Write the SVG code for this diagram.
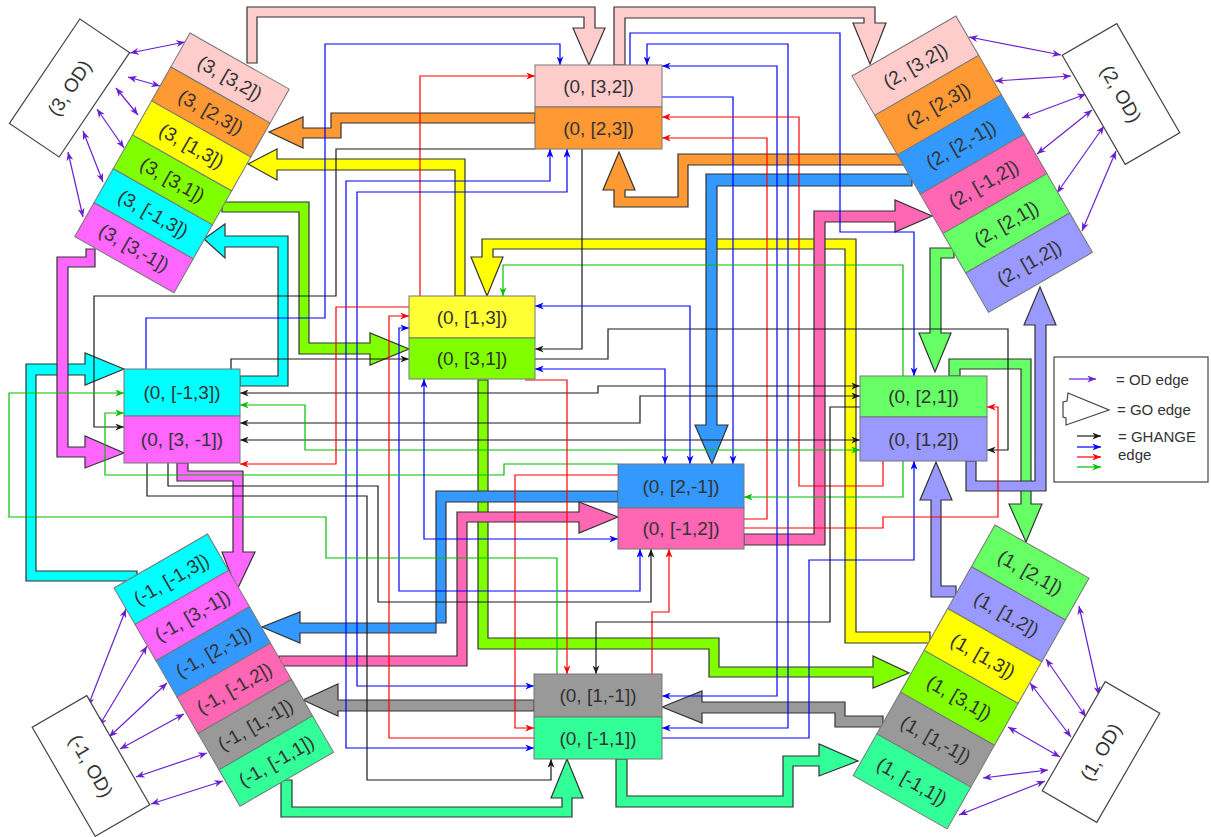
<svg xmlns="http://www.w3.org/2000/svg" width="1211" height="837" viewBox="0 0 1211 837">
<defs>
<style>
.nd rect{stroke:#777;stroke-width:1}
.nd text,.lt{font-family:"Liberation Sans",Arial,sans-serif;font-size:19px;fill:#333;text-anchor:middle;dominant-baseline:central}
.lt{font-size:15px;text-anchor:start}
.od rect{fill:#fff;stroke:#444;stroke-width:1.2}
.go{stroke:#333;stroke-width:1.2;stroke-linejoin:miter}
.t{fill:none;stroke-width:1.2}
.k{stroke:#1a1a1a}.b{stroke:#0000ff}.r{stroke:#ff0000}.g{stroke:#00c000}
.p{fill:none;stroke:#6a1fd1;stroke-width:1.2;marker-start:url(#mp);marker-end:url(#mp)}
.pk{fill:#ffcccc}.or{fill:#ff9933}.ye{fill:#ffff00}.y2{fill:#ffff33}.li{fill:#80ff00}.cy{fill:#00ffff}.mg{fill:#ff66ff}.bl{fill:#3399ff}.hp{fill:#ff66b3}.lg{fill:#66ff66}.lv{fill:#9999ff}.gy{fill:#999999}.sg{fill:#33ff99}
</style>
<marker id="mk" viewBox="0 0 10 8" refX="10" refY="4" markerWidth="9" markerHeight="7" orient="auto-start-reverse" markerUnits="userSpaceOnUse"><path d="M0,0 L10,4 L0,8 L3,4 Z" fill="#1a1a1a"/></marker>
<marker id="mb" viewBox="0 0 10 8" refX="10" refY="4" markerWidth="9" markerHeight="7" orient="auto-start-reverse" markerUnits="userSpaceOnUse"><path d="M0,0 L10,4 L0,8 L3,4 Z" fill="#0000ff"/></marker>
<marker id="mr" viewBox="0 0 10 8" refX="10" refY="4" markerWidth="9" markerHeight="7" orient="auto-start-reverse" markerUnits="userSpaceOnUse"><path d="M0,0 L10,4 L0,8 L3,4 Z" fill="#ff0000"/></marker>
<marker id="mg" viewBox="0 0 10 8" refX="10" refY="4" markerWidth="9" markerHeight="7" orient="auto-start-reverse" markerUnits="userSpaceOnUse"><path d="M0,0 L10,4 L0,8 L3,4 Z" fill="#00c000"/></marker>
<marker id="mp" viewBox="0 0 10 8" refX="10" refY="4" markerWidth="9" markerHeight="7" orient="auto-start-reverse" markerUnits="userSpaceOnUse"><path d="M0,0 L10,4 L0,8 L3,4 Z" fill="#6a1fd1"/></marker>
</defs>
<rect width="1211" height="837" fill="#fff"/>

<g id="connectors">
 <g id="go-edges" class="go">
  <polygon class="pk" points="247,63 247,7 595,7 595,28 605,28 589,65 573,28 584,28 584,17 257,17 257,63"/>
  <polygon class="pk" points="614,65 614,7 875,7 875,23 886,23 870,64 853,23 864,23 864,18 625,18 625,65"/>
  <polygon class="or" points="535,113 331,113 331,128 303,128 303,117 269,132 303,148 303,138 341,138 341,123 535,123"/>
  <polygon class="or" points="619,152 635,190 625,190 625,197 678,197 678,154 904,154 904,165 688,165 688,207 614,207 614,190 603,190"/>
  <polygon class="ye" points="465,296 465,159 277,159 277,149 248,164 277,180 277,170 455,170 455,296"/>
  <polygon class="ye" points="487,296 503,257 493,257 493,249 845,249 845,643 930,643 930,632 856,632 856,239 482,239 482,257 471,257"/>
  <polygon class="li" points="222,202 309,202 309,343 370,343 370,333 409,349 370,365 370,354 299,354 299,212 222,212"/>
  <polygon class="li" points="478,380 488,380 488,638 719,638 719,667 873,667 873,656 909,673 873,688 873,677 709,677 709,649 478,649"/>
  <polygon class="cy" points="204,239 225,224 225,236 288,236 288,386 240,386 240,376 278,376 278,247 225,247 225,258"/>
  <polygon class="cy" points="124,369 85,353 85,364 26,364 26,581 137,581 137,571 36,571 36,375 85,375 85,385"/>
  <polygon class="mg" points="57,257 86,257 86,249 95,249 95,267 68,267 68,447 85,447 85,436 124,453 85,468 85,457 57,457"/>
  <polygon class="mg" points="177,463 188,463 188,471 243,471 243,552 255,552 237,590 222,552 233,552 233,481 177,481"/>
  <polygon class="bl" points="912,174 706,174 706,425 695,425 712,464 728,425 717,425 717,186 912,186"/>
  <polygon class="bl" points="618,491 436,491 436,633 300,633 300,643 262,627 300,612 300,623 446,623 446,502 618,502"/>
  <polygon class="hp" points="279,656 457,656 457,512 579,512 579,502 618,517 579,533 579,522 467,522 467,666 279,666"/>
  <polygon class="hp" points="744,534 814,534 814,211 895,211 895,200 932,216 895,232 895,222 825,222 825,545 744,545"/>
  <polygon class="gy" points="534,700 338,700 338,684 303,700 338,716 338,711 534,711"/>
  <polygon class="gy" points="662,707 702,691 702,702 845,702 845,716 883,716 883,727 835,727 835,713 702,713 702,723"/>
  <polygon class="sg" points="281,780 281,817 572,817 572,798 583,798 567,759 551,798 562,798 562,807 292,807 292,780"/>
  <polygon class="sg" points="616,759 616,807 793,807 793,766 819,766 819,776 858,761 819,744 819,756 783,756 783,796 627,796 627,759"/>
  <polygon class="lg" points="954,248 930,248 930,333 919,333 935,372 951,333 941,333 941,258 954,258"/>
  <polygon class="lg" points="949,376 949,359 1031,359 1031,504 1042,504 1026,542 1009,504 1021,504 1021,369 960,369 960,376"/>
  <polygon class="lv" points="966,461 966,491 1046,491 1046,325 1056,325 1040,287 1024,325 1035,325 1035,481 976,481 976,461"/>
  <polygon class="lv" points="956,586 941,586 941,500 952,500 936,462 920,500 931,500 931,597 956,597"/>
 </g>
 <g id="change-edges" class="t">
  <path class="b" marker-end="url(#mb)" d="M146,369 V318 H325 V44 H560 V65"/>
  <path class="r" marker-end="url(#mr)" d="M420,296 V76 H535"/>
  <path class="k" marker-end="url(#mk)" d="M535,149 H336 V296 H94 V427 H124"/>
  <path class="b" marker-start="url(#mb)" marker-end="url(#mb)" d="M550,149 V181 H346 V748 H534"/>
  <path class="b" marker-start="url(#mb)" marker-end="url(#mb)" d="M567,149 V192 H357 V686 H534"/>
  <path class="b" marker-end="url(#mb)" d="M630,65 V33 H840 V232 H914 V376"/>
  <path class="b" marker-start="url(#mb)" marker-end="url(#mb)" d="M662,66 H777 V696 H662"/>
  <path class="b" marker-start="url(#mb)" marker-end="url(#mb)" d="M647,65 V44 H788 V728 H662"/>
  <path class="b" marker-end="url(#mb)" d="M662,97 H733 V464"/>
  <path class="r" marker-end="url(#mr)" d="M744,519 H767 V138 H662"/>
  <path class="r" marker-end="url(#mr)" d="M883,461 V486 H799 V117 H662"/>
  <path class="g" marker-end="url(#mg)" d="M903,376 V265 H503 V296"/>
  <path class="k" marker-end="url(#mk)" d="M582,149 V349 H535"/>
  <path class="k" marker-end="url(#mk)" d="M231,369 V359 H409"/>
  <path class="k" marker-start="url(#mk)" marker-end="url(#mk)" d="M240,393 H598 V386 H860"/>
  <path class="k" marker-start="url(#mk)" marker-end="url(#mk)" d="M240,423 H640 V396 H860"/>
  <path class="k" marker-start="url(#mk)" marker-end="url(#mk)" d="M240,440 H860"/>
  <path class="g" marker-start="url(#mg)" marker-end="url(#mg)" d="M240,405 H305 V450 H860"/>
  <path class="k" marker-end="url(#mk)" d="M535,359 H608 V329 H1008 V450 H987"/>
  <path class="b" marker-start="url(#mb)" marker-end="url(#mb)" d="M535,306 H690 V464"/>
  <path class="b" marker-start="url(#mb)" marker-end="url(#mb)" d="M535,369 H665 V464"/>
  <path class="r" marker-end="url(#mr)" d="M409,307 H336 V464 H240"/>
  <path class="r" marker-end="url(#mr)" d="M534,738 H389 V316 H409"/>
  <path class="b" marker-start="url(#mb)" marker-end="url(#mb)" d="M409,328 H399 V591 H640 V549"/>
  <path class="k" marker-end="url(#mk)" d="M168,463 V486 H378 V602 H651 V549"/>
  <path class="r" marker-end="url(#mr)" d="M652,674 V612 H669 V549"/>
  <path class="k" marker-end="url(#mk)" d="M147,463 V496 H367 V780 H551 V759"/>
  <path class="r" marker-end="url(#mr)" d="M618,475 H515 V728 H534"/>
  <path class="g" marker-end="url(#mg)" d="M618,464 H504 V475 H105 V413 H124"/>
  <path class="g" marker-end="url(#mg)" d="M903,461 V497 H744"/>
  <path class="b" marker-start="url(#mb)" marker-end="url(#mb)" d="M424,379 V539 H618"/>
  <path class="g" marker-end="url(#mg)" d="M557,674 V558 H326 V517 H9 V393 H124"/>
  <path class="r" marker-end="url(#mr)" d="M525,380 H567 V674"/>
  <path class="k" marker-end="url(#mk)" d="M860,407 H830 V622 H596 V674"/>
  <path class="b" marker-end="url(#mb)" d="M662,738 H809 V560 H914 V461"/>
  <path class="r" marker-end="url(#mr)" d="M744,528 H883 V517 H998 V407 H987"/>
 </g>
 <g id="od-edges">
  <path class="p" d="M130,53 L185,42"/>
  <path class="p" d="M128,77 L160,86"/>
  <path class="p" d="M116,88 L138,115"/>
  <path class="p" d="M97,109 L124,148"/>
  <path class="p" d="M83,131 L103,182"/>
  <path class="p" d="M68,152 L83,217"/>
  <path class="p" d="M969,37 L1061,55"/>
  <path class="p" d="M995,81 L1071,76"/>
  <path class="p" d="M1022,118 L1086,94"/>
  <path class="p" d="M1037,154 L1092,110"/>
  <path class="p" d="M1057,193 L1104,126"/>
  <path class="p" d="M1082,231 L1116,151"/>
  <path class="p" d="M126,609 L88,706"/>
  <path class="p" d="M147,646 L99,726"/>
  <path class="p" d="M167,683 L109,737"/>
  <path class="p" d="M184,714 L120,749"/>
  <path class="p" d="M207,753 L136,777"/>
  <path class="p" d="M223,781 L151,804"/>
  <path class="p" d="M1079,606 L1099,695"/>
  <path class="p" d="M1046,659 L1086,717"/>
  <path class="p" d="M1030,683 L1071,737"/>
  <path class="p" d="M1008,727 L1060,757"/>
  <path class="p" d="M983,778 L1048,770"/>
  <path class="p" d="M959,815 L1045,781"/>
 </g>
</g>

<g id="nodes" class="nd">
 <g id="n0_32"><rect class="pk" x="535" y="65" width="127" height="42"/><text x="598.5" y="86">(0, [3,2])</text></g>
 <g id="n0_23"><rect class="or" x="535" y="107" width="127" height="42"/><text x="598.5" y="128">(0, [2,3])</text></g>
 <g id="n0_13"><rect class="y2" x="409" y="296" width="126" height="42"/><text x="472" y="317">(0, [1,3])</text></g>
 <g id="n0_31"><rect class="li" x="409" y="338" width="126" height="41"/><text x="472" y="358.5">(0, [3,1])</text></g>
 <g id="n0_m13"><rect class="cy" x="124" y="369" width="116" height="47"/><text x="182" y="392.5">(0, [-1,3])</text></g>
 <g id="n0_3m1"><rect class="mg" x="124" y="416" width="116" height="47"/><text x="182" y="439.5">(0, [3, -1])</text></g>
 <g id="n0_21"><rect class="lg" x="860" y="376" width="127" height="41"/><text x="923.5" y="396.5">(0, [2,1])</text></g>
 <g id="n0_12"><rect class="lv" x="860" y="417" width="127" height="44"/><text x="923.5" y="439">(0, [1,2])</text></g>
 <g id="n0_2m1"><rect class="bl" x="618" y="464" width="126" height="44"/><text x="681" y="486">(0, [2,-1])</text></g>
 <g id="n0_m12"><rect class="hp" x="618" y="508" width="126" height="41"/><text x="681" y="528.5">(0, [-1,2])</text></g>
 <g id="n0_1m1"><rect class="gy" x="534" y="674" width="128" height="43"/><text x="598" y="695.5">(0, [1,-1])</text></g>
 <g id="n0_m11"><rect class="sg" x="534" y="717" width="128" height="42"/><text x="598" y="738">(0, [-1,1])</text></g>

 <g id="n3_32" transform="translate(190,33) rotate(29.5)"><rect class="pk" x="0" y="0" width="114" height="39"/><text x="57" y="19.5">(3, [3,2])</text></g>
 <g id="n3_23" transform="translate(190,33) rotate(29.5)"><rect class="or" x="0" y="39" width="114" height="39"/><text x="57" y="58.5">(3, [2,3])</text></g>
 <g id="n3_13" transform="translate(190,33) rotate(29.5)"><rect class="ye" x="0" y="78" width="114" height="39"/><text x="57" y="97.5">(3, [1,3])</text></g>
 <g id="n3_31" transform="translate(190,33) rotate(29.5)"><rect class="li" x="0" y="117" width="114" height="39"/><text x="57" y="136.5">(3, [3,1])</text></g>
 <g id="n3_m13" transform="translate(190,33) rotate(29.5)"><rect class="cy" x="0" y="156" width="114" height="39"/><text x="57" y="175.5">(3, [-1,3])</text></g>
 <g id="n3_3m1" transform="translate(190,33) rotate(29.5)"><rect class="mg" x="0" y="195" width="114" height="39"/><text x="57" y="214.5">(3, [3,-1])</text></g>

 <g id="n2_32" transform="translate(852,76) rotate(-30)"><rect class="pk" x="0" y="0" width="120" height="45.5"/><text x="60" y="22.75">(2, [3,2])</text></g>
 <g id="n2_23" transform="translate(852,76) rotate(-30)"><rect class="or" x="0" y="45.5" width="120" height="45.5"/><text x="60" y="68.25">(2, [2,3])</text></g>
 <g id="n2_2m1" transform="translate(852,76) rotate(-30)"><rect class="bl" x="0" y="91" width="120" height="45.5"/><text x="60" y="113.75">(2, [2,-1])</text></g>
 <g id="n2_m12" transform="translate(852,76) rotate(-30)"><rect class="hp" x="0" y="136.5" width="120" height="45.5"/><text x="60" y="159.25">(2, [-1,2])</text></g>
 <g id="n2_21" transform="translate(852,76) rotate(-30)"><rect class="lg" x="0" y="182" width="120" height="45.5"/><text x="60" y="204.75">(2, [2,1])</text></g>
 <g id="n2_12" transform="translate(852,76) rotate(-30)"><rect class="lv" x="0" y="227.5" width="120" height="45.5"/><text x="60" y="250.25">(2, [1,2])</text></g>

 <g id="n1_21" transform="translate(995,525) rotate(29.5)"><rect class="lg" x="0" y="0" width="108" height="48"/><text x="54" y="24">(1, [2,1])</text></g>
 <g id="n1_12" transform="translate(995,525) rotate(29.5)"><rect class="lv" x="0" y="48" width="108" height="48"/><text x="54" y="72">(1, [1,2])</text></g>
 <g id="n1_13" transform="translate(995,525) rotate(29.5)"><rect class="ye" x="0" y="96" width="108" height="48"/><text x="54" y="120">(1, [1,3])</text></g>
 <g id="n1_31" transform="translate(995,525) rotate(29.5)"><rect class="li" x="0" y="144" width="108" height="48"/><text x="54" y="168">(1, [3,1])</text></g>
 <g id="n1_1m1" transform="translate(995,525) rotate(29.5)"><rect class="gy" x="0" y="192" width="108" height="48"/><text x="54" y="216">(1, [1,-1])</text></g>
 <g id="n1_m11" transform="translate(995,525) rotate(29.5)"><rect class="sg" x="0" y="240" width="108" height="48"/><text x="54" y="264">(1, [-1,1])</text></g>

 <g id="nm1_m13" transform="translate(114,588) rotate(-30)"><rect class="cy" x="0" y="0" width="108" height="42"/><text x="54" y="21">(-1, [-1,3])</text></g>
 <g id="nm1_3m1" transform="translate(114,588) rotate(-30)"><rect class="mg" x="0" y="42" width="108" height="42"/><text x="54" y="63">(-1, [3,-1])</text></g>
 <g id="nm1_2m1" transform="translate(114,588) rotate(-30)"><rect class="bl" x="0" y="84" width="108" height="42"/><text x="54" y="105">(-1, [2,-1])</text></g>
 <g id="nm1_m12" transform="translate(114,588) rotate(-30)"><rect class="hp" x="0" y="126" width="108" height="42"/><text x="54" y="147">(-1, [-1,2])</text></g>
 <g id="nm1_1m1" transform="translate(114,588) rotate(-30)"><rect class="gy" x="0" y="168" width="108" height="42"/><text x="54" y="189">(-1, [1,-1])</text></g>
 <g id="nm1_m11" transform="translate(114,588) rotate(-30)"><rect class="sg" x="0" y="210" width="108" height="42"/><text x="54" y="231">(-1, [-1,1])</text></g>

 <g id="n3_od" class="od" transform="translate(69.5,88) rotate(34)"><rect x="-30" y="-63" width="60" height="126"/><text x="0" y="0" transform="rotate(-90)">(3, OD)</text></g>
 <g id="n2_od" class="od" transform="translate(1121,94) rotate(-30)"><rect x="-31.5" y="-63" width="63" height="126"/><text x="0" y="0" transform="rotate(90)">(2, OD)</text></g>
 <g id="n1_od" class="od" transform="translate(1101,752) rotate(30)"><rect x="-31.5" y="-63" width="63" height="126"/><text x="0" y="0" transform="rotate(-90)">(1, OD)</text></g>
 <g id="nm1_od" class="od" transform="translate(91,766) rotate(-30)"><rect x="-31.5" y="-63" width="63" height="126"/><text x="0" y="0" transform="rotate(90)">(-1, OD)</text></g>
</g>

<g id="legend">
 <rect x="1054" y="357" width="154" height="125" fill="#fff" stroke="#444" stroke-width="1.2"/>
 <path d="M1069,379 H1096" stroke="#6a1fd1" stroke-width="1.2" marker-end="url(#mp)"/>
 <text class="lt" x="1116" y="379">= OD edge</text>
 <polygon points="1068,393 1109,410 1066,425 1066,418 1063,417 1063,402 1067,401" fill="#fff" stroke="#444" stroke-width="1.2"/>
 <text class="lt" x="1117" y="409">= GO edge</text>
 <path d="M1077,436 H1101" stroke="#1a1a1a" stroke-width="1.2" marker-end="url(#mk)"/>
 <path d="M1077,447 H1101" stroke="#0000ff" stroke-width="1.2" marker-end="url(#mb)"/>
 <path d="M1077,457 H1101" stroke="#ff0000" stroke-width="1.2" marker-end="url(#mr)"/>
 <path d="M1077,467 H1101" stroke="#00c000" stroke-width="1.2" marker-end="url(#mg)"/>
 <text class="lt" x="1118" y="436">= GHANGE</text>
 <text class="lt" x="1118" y="454">edge</text>
</g>
</svg>
